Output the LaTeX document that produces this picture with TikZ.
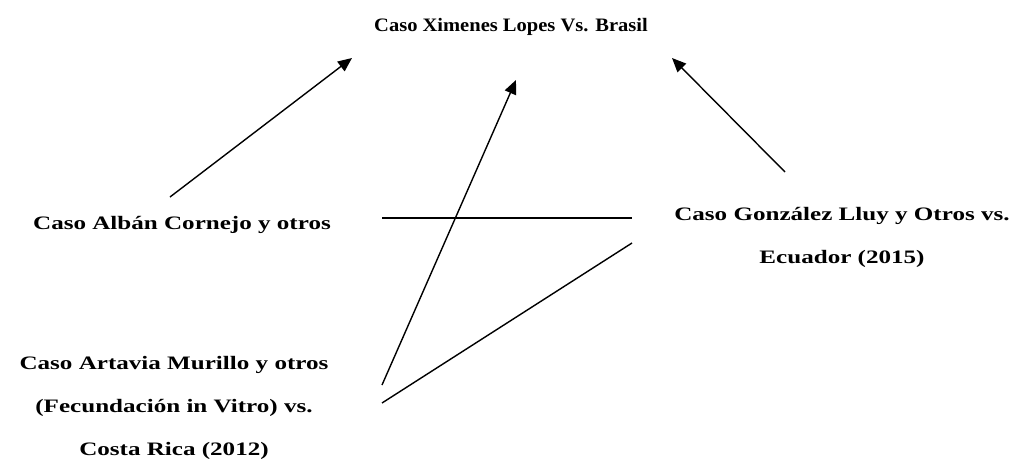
\documentclass[tikz,border=0pt]{standalone}
\usepackage{fontspec}
\setmainfont{Liberation Serif}
\newfontfamily\widefont[FakeStretch=1.32]{Liberation Serif}
\newfontfamily\titlefont[FakeStretch=1.08]{Liberation Serif}
\usetikzlibrary{arrows.meta,positioning}
\begin{document}
\begin{tikzpicture}[x=1pt,y=-1pt,>={Triangle[length=14pt,width=12pt]},
  every node/.style={font=\widefont\bfseries\fontsize{19}{43}\selectfont},
  link/.style={line width=1.4pt}]
\useasboundingbox (0,0) rectangle (1020,469);
\node[font=\titlefont\bfseries\fontsize{19}{43}\selectfont] (xl) at (511,27) {Caso Ximenes Lopes Vs. Brasil};
\node (ac) at (182,225) {Caso Albán Cornejo y otros};
\node[align=center] (gl) at (842,237) {Caso González Lluy y Otros vs.\\Ecuador (2015)};
\node[align=center] (am) at (174,408) {Caso Artavia Murillo y otros\\(Fecundación in Vitro) vs.\\Costa Rica (2012)};
% line ends
\coordinate (acup) at (170,197);
\coordinate (acr) at (382,218);
\coordinate (amr) at (382,385);
\coordinate (amr2) at (382,403);
\coordinate (glup) at (785,172);
\coordinate (gll) at (632,218);
\coordinate (gll2) at (632,243);
\coordinate (xl1) at (352,58);
\coordinate (xl2) at (516,80);
\coordinate (xl3) at (672,58);
\draw[->,link] (acup) -- (xl1);
\draw[->,link] (amr) -- (xl2);
\draw[->,link] (glup) -- (xl3);
\draw[link] (acr) -- (gll);
\draw[link] (amr2) -- (gll2);
\end{tikzpicture}
\end{document}
